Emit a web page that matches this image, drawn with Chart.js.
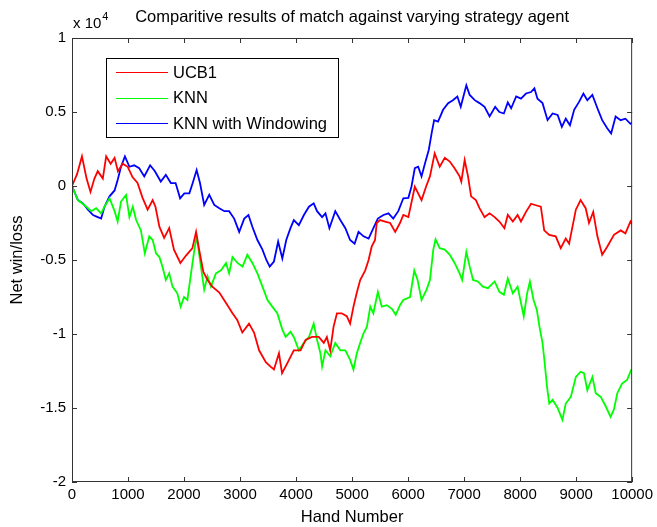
<!DOCTYPE html>
<html>
<head>
<meta charset="utf-8">
<script src="https://cdn.jsdelivr.net/npm/chart.js@4.4.1/dist/chart.umd.min.js"></script>
<style>
  body { margin: 0; background: #fff; }
  canvas { display: block; }
</style>
</head>
<body>
<canvas id="matchChart" width="657" height="527"></canvas>
<script>
// net win/loss, hand number -> chips
const ucbHands = [0, 90, 178, 260, 330, 400, 460, 550, 610, 690, 760, 820, 905, 995, 1080, 1170, 1260, 1350, 1440, 1490, 1560, 1645, 1735, 1820, 1935, 2035, 2150, 2215, 2270, 2345, 2420, 2505, 2630, 2750, 2865, 2950, 3040, 3160, 3250, 3340, 3460, 3545, 3605, 3695, 3750, 3840, 3960, 4080, 4170, 4285, 4405, 4495, 4550, 4610, 4670, 4730, 4815, 4905, 4965, 5025, 5085, 5145, 5235, 5295, 5350, 5410, 5440, 5500, 5590, 5680, 5770, 5855, 5915, 6005, 6120, 6180, 6240, 6325, 6390, 6450, 6475, 6565, 6655, 6745, 6830, 6920, 6950, 7010, 7070, 7125, 7210, 7275, 7365, 7455, 7545, 7630, 7720, 7780, 7870, 7955, 8015, 8105, 8195, 8280, 8370, 8430, 8520, 8635, 8725, 8815, 8875, 8935, 8995, 9080, 9170, 9230, 9305, 9380, 9465, 9555, 9675, 9795, 9880, 9970, 10000];
const ucbValues = [0, 800, 2000, 500, -400, 500, 1000, 500, 2000, 1500, 1900, 1000, 1500, 1300, 600, 200, -800, -1600, -950, -1400, -2750, -3500, -2850, -4300, -5200, -4700, -4200, -3100, -4300, -5800, -6350, -6800, -7200, -7900, -8600, -9050, -9900, -9300, -9900, -11100, -11900, -12200, -12400, -11300, -12650, -12000, -11100, -11100, -10400, -10200, -10200, -10600, -10200, -11100, -9500, -8600, -8600, -8800, -9300, -8150, -7200, -6350, -5700, -5000, -4100, -3650, -2500, -2300, -2400, -2500, -3100, -2500, -1960, -2100, -50, -500, -950, 0, 650, 1750, 2200, 1300, 1900, 1650, 1200, 650, 300, 1750, 650, -700, -950, -1500, -2100, -1850, -2100, -2400, -2850, -1950, -2400, -1950, -2400, -1750, -1200, -1300, -1400, -3000, -3300, -3400, -4200, -3550, -3900, -2750, -1600, -950, -1500, -2500, -1750, -3400, -4650, -4100, -3300, -3000, -3200, -2400, -2600];

const knnHands = [0, 105, 225, 345, 430, 520, 580, 670, 760, 815, 875, 965, 1025, 1085, 1145, 1230, 1300, 1380, 1440, 1500, 1560, 1615, 1675, 1735, 1795, 1880, 1940, 2000, 2060, 2125, 2185, 2225, 2285, 2360, 2420, 2480, 2570, 2660, 2750, 2805, 2865, 2955, 3045, 3130, 3220, 3310, 3400, 3490, 3575, 3665, 3755, 3815, 3900, 3960, 4050, 4140, 4230, 4315, 4375, 4435, 4465, 4525, 4610, 4700, 4790, 4880, 4965, 5025, 5085, 5145, 5205, 5265, 5325, 5380, 5460, 5530, 5620, 5710, 5780, 5855, 5915, 6035, 6110, 6170, 6240, 6330, 6390, 6450, 6490, 6565, 6655, 6745, 6830, 6920, 6965, 7040, 7100, 7160, 7245, 7335, 7425, 7545, 7630, 7710, 7780, 7870, 7955, 8065, 8125, 8175, 8240, 8300, 8345, 8400, 8440, 8480, 8520, 8580, 8670, 8755, 8815, 8905, 8995, 9080, 9140, 9200, 9290, 9350, 9440, 9530, 9615, 9675, 9735, 9820, 9910, 9980, 10000];
const knnValues = [0, -950, -1300, -1700, -1500, -1850, -1400, -830, -1700, -2400, -1050, -600, -2100, -1400, -2300, -3000, -4550, -3400, -3650, -4550, -4800, -5450, -6350, -5900, -6800, -7250, -8150, -7500, -7700, -5900, -4300, -3400, -5000, -7000, -6100, -6800, -5900, -5700, -5200, -5900, -4800, -5200, -5450, -4650, -5200, -5900, -6800, -7700, -8150, -8600, -9700, -10200, -9850, -10200, -11100, -10600, -10200, -9300, -10400, -11300, -12200, -11100, -11500, -10600, -11100, -11100, -11750, -12400, -11300, -10600, -9950, -9500, -8150, -8600, -7150, -8150, -8050, -8300, -8700, -8050, -7700, -7500, -5700, -6350, -7700, -7000, -6350, -4300, -3600, -4200, -4300, -4650, -5200, -5900, -6350, -4450, -5450, -6350, -6450, -6800, -6900, -6450, -7150, -7350, -6250, -7250, -6800, -8800, -7250, -6450, -7700, -8400, -9500, -10600, -12000, -13550, -14700, -14450, -15000, -15800, -14700, -14250, -12900, -12550, -12650, -13800, -12900, -14000, -14250, -14900, -15600, -15100, -14000, -13350, -13100, -12450, -12500];

const windowHands = [0, 105, 195, 285, 375, 460, 520, 580, 670, 760, 815, 875, 945, 1025, 1110, 1200, 1290, 1395, 1480, 1585, 1675, 1765, 1850, 1930, 2005, 2095, 2155, 2225, 2285, 2360, 2450, 2540, 2630, 2720, 2805, 2895, 2985, 3075, 3150, 3220, 3310, 3400, 3470, 3530, 3605, 3680, 3755, 3825, 3900, 3960, 4050, 4140, 4230, 4315, 4375, 4465, 4525, 4595, 4700, 4790, 4880, 4965, 5045, 5115, 5205, 5295, 5380, 5460, 5560, 5650, 5735, 5825, 5915, 6005, 6060, 6120, 6180, 6240, 6300, 6370, 6420, 6465, 6535, 6625, 6715, 6800, 6880, 6940, 7040, 7100, 7190, 7275, 7365, 7455, 7555, 7630, 7710, 7780, 7840, 7930, 8015, 8105, 8195, 8255, 8310, 8400, 8490, 8580, 8670, 8745, 8815, 8890, 8965, 9055, 9130, 9200, 9290, 9380, 9465, 9555, 9625, 9705, 9795, 9880, 9970, 10000];
const windowValues = [0, -950, -1170, -1600, -1960, -2100, -2200, -1400, -700, -300, 400, 1300, 2000, 1300, 1400, 1200, 650, 1400, 1000, 300, 750, 200, 200, -830, -500, -500, 200, 1080, 200, -1280, -600, -1280, -1500, -1700, -1700, -2200, -3100, -2200, -1960, -2750, -3650, -4300, -5000, -5450, -5100, -3750, -4900, -3650, -2850, -2300, -2650, -1960, -1400, -1170, -1700, -2100, -1850, -2850, -1700, -2300, -2850, -3650, -3900, -3100, -3400, -3550, -2850, -2200, -1960, -1850, -2200, -1700, -830, -800, -50, 1200, 1300, 650, 1500, 2450, 3550, 4450, 4350, 5150, 5600, 5800, 6050, 5350, 6800, 6150, 5800, 5600, 5350, 4700, 5350, 5000, 4900, 5650, 5250, 6050, 5900, 6250, 6350, 6600, 5900, 5600, 4450, 4900, 4800, 4000, 4550, 4100, 5150, 5700, 6250, 5800, 6150, 5250, 4450, 3900, 3550, 4700, 4450, 4550, 4200, 4300];

const seriesLabels = ["UCB1", "KNN", "KNN with Windowing"];
const seriesColors = ["#ff0000", "#00ff00", "#0000ff"];
const xTicks = [0, 1000, 2000, 3000, 4000, 5000, 6000, 7000, 8000, 9000, 10000];
const yTicks = [-20000, -15000, -10000, -5000, 0, 5000, 10000];

const FONT = "'Liberation Sans', Arial, sans-serif";

function toPoints(hands, values) {
  return hands.map((h, i) => ({ x: h, y: values[i] }));
}

// MATLAB-ish box with inward ticks on all four sides
const axesBox = {
  id: "axesBox",
  afterDatasetsDraw(chart) {
    const { ctx, chartArea: a, scales } = chart;
    const len = 5;
    ctx.save();
    ctx.strokeStyle = "#333";
    ctx.lineWidth = 1;
    ctx.strokeRect(a.left + 0.5, a.top + 0.5, a.right - a.left - 1, a.bottom - a.top - 1);
    ctx.beginPath();
    xTicks.forEach((v) => {
      const px = Math.round(scales.x.getPixelForValue(v)) + 0.5;
      ctx.moveTo(px, a.bottom);
      ctx.lineTo(px, a.bottom - len);
      ctx.moveTo(px, a.top);
      ctx.lineTo(px, a.top + len);
    });
    yTicks.forEach((v) => {
      const py = Math.round(scales.y.getPixelForValue(v)) + 0.5;
      ctx.moveTo(a.left, py);
      ctx.lineTo(a.left + len, py);
      ctx.moveTo(a.right, py);
      ctx.lineTo(a.right - len, py);
    });
    ctx.stroke();
    ctx.restore();
  },
  afterDraw(chart) {
    const { ctx, chartArea: a } = chart;
    ctx.save();
    // exponent label
    ctx.fillStyle = "#000";
    ctx.textBaseline = "alphabetic";
    ctx.font = "15px " + FONT;
    ctx.fillText("x 10", a.left + 1, 28);
    const w = ctx.measureText("x 10").width;
    ctx.font = "11px " + FONT;
    ctx.fillText("4", a.left + 2 + w, 20);

    // legend box
    const bx = a.left + 34, by = a.top + 20, bw = 232, bh = 79;
    ctx.fillStyle = "#fff";
    ctx.fillRect(bx, by, bw, bh);
    ctx.strokeStyle = "#000";
    ctx.lineWidth = 1;
    ctx.strokeRect(bx + 0.5, by + 0.5, bw, bh);
    ctx.font = "16.5px " + FONT;
    ctx.textBaseline = "middle";
    chart.data.datasets.forEach((ds, i) => {
      const y = by + 14 + i * 25.5;
      ctx.strokeStyle = ds.borderColor;
      ctx.lineWidth = 1;
      ctx.beginPath();
      ctx.moveTo(bx + 10, Math.round(y) + 0.5);
      ctx.lineTo(bx + 62, Math.round(y) + 0.5);
      ctx.stroke();
      ctx.fillStyle = "#000";
      ctx.fillText(ds.label, bx + 67, y + 1);
    });
    ctx.restore();
  }
};

const datasets = [
  toPoints(ucbHands, ucbValues),
  toPoints(knnHands, knnValues),
  toPoints(windowHands, windowValues)
].map((pts, i) => ({
  label: seriesLabels[i],
  data: pts,
  borderColor: seriesColors[i],
  backgroundColor: seriesColors[i],
  borderWidth: 1.8,
  pointRadius: 0,
  tension: 0,
  fill: false
}));

new Chart(document.getElementById("matchChart"), {
  type: "line",
  data: { datasets },
  options: {
    responsive: false,
    animation: false,
    devicePixelRatio: 1,
    layout: { padding: { left: 0, right: 22, top: 0, bottom: 0 } },
    plugins: {
      legend: { display: false },
      tooltip: { enabled: false },
      title: {
        display: true,
        fullSize: false,
        text: "Comparitive results of match against varying strategy agent",
        color: "#000",
        font: { family: FONT, size: 16.5, weight: "normal", lineHeight: 1.2 },
        padding: { top: 8, bottom: 10.2 }
      }
    },
    scales: {
      x: {
        type: "linear",
        min: 0,
        max: 10000,
        afterFit: (scale) => { scale.height = 45; },
        afterBuildTicks: (scale) => { scale.ticks = xTicks.map((v) => ({ value: v })); },
        ticks: {
          color: "#000",
          font: { family: FONT, size: 15 },
          padding: 4,
          maxRotation: 0,
          autoSkip: false,
          callback: (v) => String(v)
        },
        grid: { display: false, drawTicks: false },
        border: { display: false },
        title: {
          display: true,
          text: "Hand Number",
          color: "#000",
          font: { family: FONT, size: 16.5 },
          padding: { top: 0, bottom: 0 }
        }
      },
      y: {
        min: -20000,
        max: 10000,
        afterFit: (scale) => { scale.width = 72; },
        afterBuildTicks: (scale) => { scale.ticks = yTicks.map((v) => ({ value: v })); },
        ticks: {
          color: "#000",
          font: { family: FONT, size: 15 },
          padding: 6,
          callback: (v) => String(v / 10000)
        },
        grid: { display: false, drawTicks: false },
        border: { display: false },
        title: {
          display: true,
          text: "Net win/loss",
          color: "#000",
          font: { family: FONT, size: 16.5 },
          padding: { top: 8, bottom: 0 }
        }
      }
    }
  },
  plugins: [axesBox]
});
</script>
</body>
</html>
